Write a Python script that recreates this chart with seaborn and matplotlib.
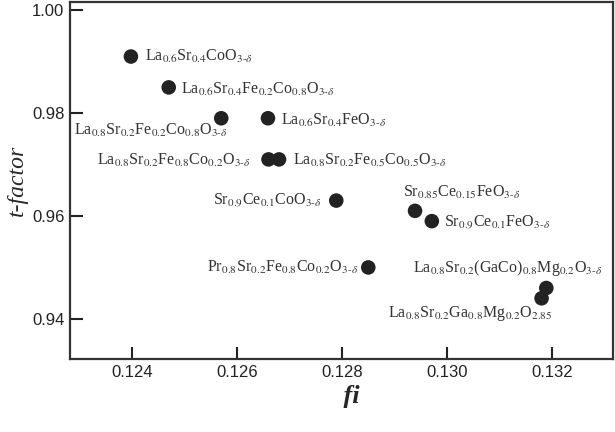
import matplotlib
matplotlib.use("Agg")
import matplotlib.pyplot as plt
import seaborn as sns
import pandas as pd

# ---- data ----
compounds = [
    r"La$_{0.6}$Sr$_{0.4}$CoO$_{\mathit{3}\text{-}\delta}$",
    r"La$_{0.6}$Sr$_{0.4}$Fe$_{0.2}$Co$_{0.8}$O$_{\mathit{3}\text{-}\delta}$",
    r"La$_{0.8}$Sr$_{0.2}$Fe$_{0.2}$Co$_{0.8}$O$_{\mathit{3}\text{-}\delta}$",
    r"La$_{0.6}$Sr$_{0.4}$FeO$_{\mathit{3}\text{-}\delta}$",
    r"La$_{0.8}$Sr$_{0.2}$Fe$_{0.8}$Co$_{0.2}$O$_{\mathit{3}\text{-}\delta}$",
    r"La$_{0.8}$Sr$_{0.2}$Fe$_{0.5}$Co$_{0.5}$O$_{\mathit{3}\text{-}\delta}$",
    r"Sr$_{0.9}$Ce$_{0.1}$CoO$_{\mathit{3}\text{-}\delta}$",
    r"Sr$_{0.85}$Ce$_{0.15}$FeO$_{\mathit{3}\text{-}\delta}$",
    r"Sr$_{0.9}$Ce$_{0.1}$FeO$_{\mathit{3}\text{-}\delta}$",
    r"Pr$_{0.8}$Sr$_{0.2}$Fe$_{0.8}$Co$_{0.2}$O$_{\mathit{3}\text{-}\delta}$",
    r"La$_{0.8}$Sr$_{0.2}$(GaCo)$_{0.8}$Mg$_{0.2}$O$_{\mathit{3}\text{-}\delta}$",
    r"La$_{0.8}$Sr$_{0.2}$Ga$_{0.8}$Mg$_{0.2}$O$_{2.85}$",
]
delta_f = [0.12398, 0.1247, 0.1257, 0.12659, 0.1266, 0.1268,
           0.12789, 0.12939, 0.12971, 0.1285, 0.13189, 0.1318]
t_factor = [0.991, 0.985, 0.979, 0.979, 0.971, 0.971,
            0.963, 0.961, 0.959, 0.950, 0.946, 0.944]

x_ticks = [0.124, 0.126, 0.128, 0.130, 0.132]
y_ticks = [0.94, 0.96, 0.98, 1.00]

offsets = [(14, 0, "left"), (12, -2, "left"), (7, -12, "right"), (13, -2, "left"),
           (-18, -1, "right"), (14, -1, "left"), (-14, 0, "right"), (-12, 18, "left"),
           (12, -1, "left"), (-10, 0, "right"), (56, 20, "right"), (11, -15, "right")]

df = pd.DataFrame({"df": delta_f, "t": t_factor, "name": compounds})

sns.set_theme(style="ticks", rc={"axes.linewidth": 1.6, "axes.edgecolor": "#333333"})
plt.rcParams.update({
    "mathtext.fontset": "stix",
    "font.family": ["Liberation Serif", "DejaVu Serif"],
    "xtick.direction": "in", "ytick.direction": "in",
    "xtick.major.size": 9, "ytick.major.size": 9,
    "xtick.major.width": 1.5, "ytick.major.width": 1.5,
    "xtick.major.pad": 4, "ytick.major.pad": 4,
    "xtick.color": "#222222", "ytick.color": "#222222",
})

fig = plt.figure(figsize=(6.15, 4.32), dpi=100)
ax = fig.add_axes([70 / 615, 1 - 359 / 432, (613 - 70) / 615, (359 - 2) / 432])

sns.scatterplot(data=df, x="df", y="t", ax=ax, s=110, color="#222222",
                edgecolor="none", legend=False, zorder=3)

for xv, yv, name, (dx, dy, ha) in zip(delta_f, t_factor, compounds, offsets):
    ax.annotate(name, (xv, yv), xytext=(dx, dy), textcoords="offset pixels",
                ha=ha, va="center", fontsize=11.5, color="#333333")

ax.set_xlim(0.12282, 0.13316)
ax.set_ylim(0.9322, 1.0016)
ax.set_xticks(x_ticks)
ax.set_xticklabels([f"{v:.3f}" for v in x_ticks], family="Liberation Sans", fontsize=12)
ax.set_yticks(y_ticks)
ax.set_yticklabels([f"{v:.2f}" for v in y_ticks], family="Liberation Sans", fontsize=12)

ax.set_ylabel("t-factor", fontsize=17, labelpad=3, style="italic")
ax.set_xlabel("⊿fi", fontsize=19, labelpad=4, style="italic", weight="bold")

fig.savefig("out.png", dpi=100)
